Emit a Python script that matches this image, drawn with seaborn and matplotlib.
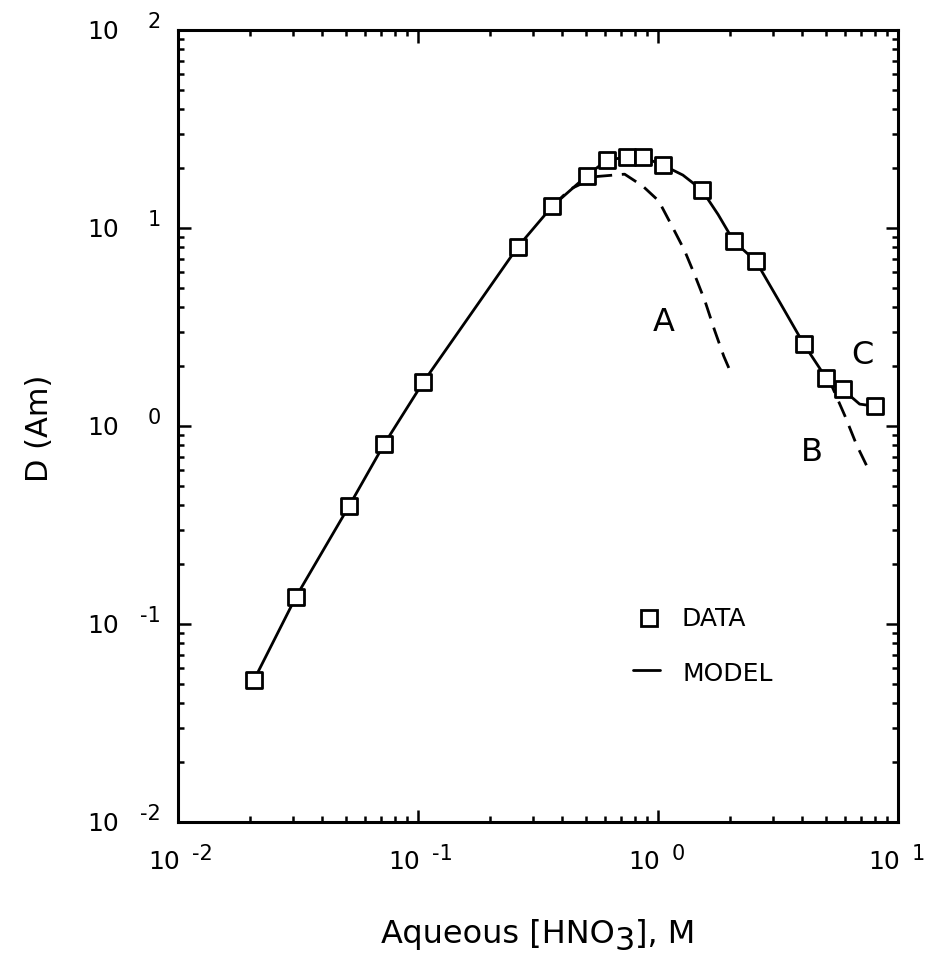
import matplotlib
matplotlib.use("Agg")
import matplotlib.pyplot as plt
from matplotlib.lines import Line2D
from matplotlib.ticker import FixedLocator, LogLocator, NullFormatter
from matplotlib.transforms import IdentityTransform
import pandas as pd
import seaborn as sns

# Measured americium distribution ratios vs. aqueous nitric acid
hno3 = [0.0207, 0.031, 0.0516, 0.0723, 0.105, 0.261, 0.363, 0.506, 0.611,
        0.740, 0.863, 1.046, 1.52, 2.07, 2.56, 4.06, 5.03, 5.88, 8.0]
d_am = [0.052, 0.137, 0.394, 0.81, 1.66, 8.05, 12.9, 18.4, 22.0,
        22.8, 22.8, 20.8, 15.6, 8.57, 6.79, 2.58, 1.74, 1.53, 1.26]

# Model curve C (full model, solid)
model_c_x = [0.0207, 0.031, 0.0516, 0.0723, 0.105, 0.261, 0.363, 0.506, 0.611,
             0.740, 0.863, 1.046, 1.27, 1.52, 1.78, 2.07, 2.56, 3.23, 4.06,
             5.03, 5.88, 6.92, 8.0]
model_c_y = [0.052, 0.137, 0.394, 0.81, 1.66, 8.05, 12.9, 18.4, 22.0,
             22.8, 22.8, 20.8, 18.5, 15.6, 11.7, 8.57, 6.79, 4.18, 2.58,
             1.74, 1.53, 1.29, 1.26]

# Model curve A (dashed)
model_a_x = [0.363, 0.43, 0.556, 0.726, 0.863, 1.007, 1.14, 1.29, 1.43,
             1.57, 1.72, 1.88, 2.0]
model_a_y = [12.9, 15.7, 18.2, 18.7, 16.3, 13.7, 10.3, 7.7, 5.7,
             4.27, 3.05, 2.25, 1.89]

# Model curve B (dashed)
model_b_x = [5.03, 5.34, 6.0, 6.73, 7.55]
model_b_y = [1.74, 1.56, 1.13, 0.80, 0.60]

x_decades = [1e-2, 1e-1, 1e0, 1e1]
x_exponents = ["-2", "-1", "0", "1"]
y_decades = [1e-2, 1e-1, 1e0, 1e1, 1e2]
y_exponents = ["-2", "-1", "0", "1", "2"]

sns.set_theme(style="ticks")
plt.rcParams["font.family"] = ["DejaVu Sans"]
plt.rcParams["text.color"] = "black"

W, H = 929, 956
fig = plt.figure(figsize=(W / 100, H / 100), dpi=100)
fig.patch.set_facecolor("white")
ax = fig.add_axes([178 / W, 1 - 822 / H, 720 / W, 792 / H])
ax.set_facecolor("white")
ax.set_xscale("log")
ax.set_yscale("log")

LW = 2.0
dash = (0, (6, 3.5))

sns.lineplot(data=pd.DataFrame({"x": model_c_x, "y": model_c_y}), x="x", y="y",
             ax=ax, color="black", lw=LW, sort=False, estimator=None)
sns.lineplot(data=pd.DataFrame({"x": model_a_x, "y": model_a_y}), x="x", y="y",
             ax=ax, color="black", lw=LW, sort=False, estimator=None,
             linestyle=dash)
sns.lineplot(data=pd.DataFrame({"x": model_b_x, "y": model_b_y}), x="x", y="y",
             ax=ax, color="black", lw=LW, sort=False, estimator=None,
             linestyle=dash)
sns.scatterplot(data=pd.DataFrame({"x": hno3, "y": d_am}), x="x", y="y", ax=ax,
                marker="s", s=130, color="white", edgecolor="black",
                linewidth=2.0, zorder=4)

ax.set_xlim(1e-2, 1e1)
ax.set_ylim(1e-2, 1e2)
ax.set_xlabel("")
ax.set_ylabel("")

# ticks: inward on all four sides, decade labels drawn separately
for axis, decades in ((ax.xaxis, x_decades), (ax.yaxis, y_decades)):
    axis.set_major_locator(FixedLocator(decades))
    axis.set_minor_locator(LogLocator(base=10, subs=range(2, 10), numticks=20))
    axis.set_major_formatter(NullFormatter())
    axis.set_minor_formatter(NullFormatter())
ax.tick_params(which="both", direction="in", top=True, right=True,
               width=1.8, color="black", labelbottom=False, labelleft=False)
ax.tick_params(which="major", length=9)
ax.tick_params(which="minor", length=4.5)
for sp in ax.spines.values():
    sp.set_linewidth(2.2)
    sp.set_color("black")

PX = 0.72  # points per pixel at 100 dpi
for xv, e in zip(x_decades, x_exponents):
    ax.annotate("10", xy=(xv, 0), xycoords=("data", "axes fraction"),
                xytext=(2 * PX, -47 * PX), textcoords="offset points",
                ha="right", va="baseline", fontsize=18)
    ax.annotate(e, xy=(xv, 0), xycoords=("data", "axes fraction"),
                xytext=(14 * PX, -38.5 * PX), textcoords="offset points",
                ha="left", va="baseline", fontsize=15)
for yv, e in zip(y_decades, y_exponents):
    ax.annotate("10", xy=(0, yv), xycoords=("axes fraction", "data"),
                xytext=(-59 * PX, -9 * PX), textcoords="offset points",
                ha="right", va="baseline", fontsize=18)
    ax.annotate(e, xy=(0, yv), xycoords=("axes fraction", "data"),
                xytext=(-17 * PX, 1.5 * PX), textcoords="offset points",
                ha="right", va="baseline", fontsize=15)

# y axis title
fig.text(40 / W, 1 - 428 / H, "D (Am)", rotation=90, ha="center", va="center",
         fontsize=22)

# x axis title with a full-size, lowered subscript
fig.canvas.draw()
renderer = fig.canvas.get_renderer()
pieces = [("Aqueous [HNO", 0), ("3", -7), ("], M", 0)]
texts = []
cursor = 0.0
for s, dy in pieces:
    t = fig.text(cursor, H - 943 + dy, s, fontsize=23, ha="left", va="baseline",
                 transform=IdentityTransform())
    w = t.get_window_extent(renderer).width
    texts.append((t, cursor, dy))
    cursor += w
start = 538 - cursor / 2
for t, off, dy in texts:
    t.set_position((start + off, H - 943 + dy))

# curve labels
for s, cx, base in (("A", 664, 331), ("B", 812, 461), ("C", 862, 364)):
    fig.text(cx / W, 1 - base / H, s, ha="center", va="baseline", fontsize=23)

# key
fig.add_artist(Line2D([649 / W], [1 - 618 / H], marker="s", ls="none",
                      ms=12, mfc="white", mec="black", mew=2.0))
fig.add_artist(Line2D([633 / W, 660 / W], [1 - 670 / H, 1 - 670 / H],
                      color="black", lw=LW))
fig.text(682 / W, 1 - 626 / H, "DATA", ha="left", va="baseline", fontsize=18)
fig.text(683 / W, 1 - 681 / H, "MODEL", ha="left", va="baseline", fontsize=18)

fig.savefig("out.png", dpi=100, facecolor="white")
